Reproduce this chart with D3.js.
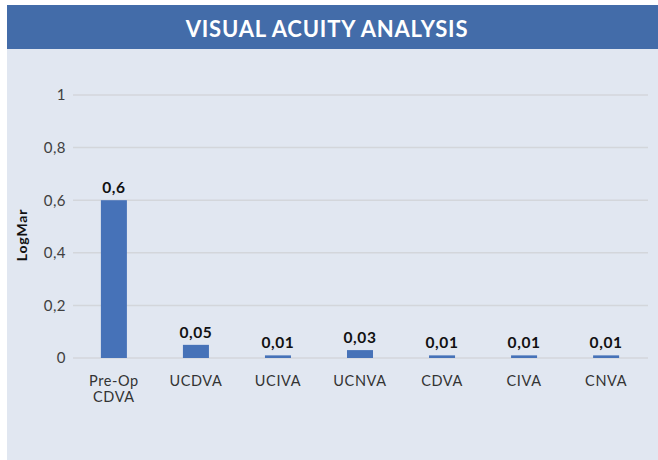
<!DOCTYPE html>
<html><head><meta charset="utf-8">
<script src="https://cdn.jsdelivr.net/npm/d3@7"></script>
<style>body{margin:0;background:#fff;}svg{display:block;font-family:"Lato","Noto Sans",sans-serif;}</style>
</head><body>
<svg id="c" width="658" height="460"></svg>
<script>
const title = "VISUAL ACUITY ANALYSIS";
const categories = ["Pre-Op\nCDVA","UCDVA","UCIVA","UCNVA","CDVA","CIVA","CNVA"];
const values = [0.6,0.05,0.01,0.03,0.01,0.01,0.01];
const valueLabels = ["0,6","0,05","0,01","0,03","0,01","0,01","0,01"];
const yTicks = [0,0.2,0.4,0.6,0.8,1];
const yTickLabels = ["0","0,2","0,4","0,6","0,8","1"];
const yTitle = "LogMar";

const svg = d3.select("#c");
svg.append("rect").attr("x",7).attr("y",5).attr("width",651).attr("height",455).attr("fill","#e1e7f1");
svg.append("rect").attr("x",7).attr("y",5).attr("width",651).attr("height",44).attr("fill","#436ca9");
svg.append("text").attr("x",327).attr("y",28).attr("text-anchor","middle").attr("dominant-baseline","central")
  .attr("fill","#fff").attr("font-weight","bold").attr("font-size",22).attr("letter-spacing",0.8).text(title);

const x = d3.scaleBand().domain(categories).range([73,647]).paddingInner(0.683).paddingOuter(0.34);
const y = d3.scaleLinear().domain([0,1]).range([358,95]);

const g = svg.append("g");
g.selectAll("line.grid").data(yTicks).join("line").attr("class","grid")
  .attr("x1",73).attr("x2",648).attr("y1",d=>y(d)).attr("y2",d=>y(d))
  .attr("stroke","#d3d6db").attr("stroke-width",1.5);

const yAxis = d3.axisLeft(y).tickValues(yTicks).tickFormat((d,i)=>yTickLabels[i]).tickSize(0).tickPadding(7);
const ya = g.append("g").attr("transform","translate(73,0)").call(yAxis);
ya.select(".domain").remove();
ya.selectAll("text").attr("font-size",15).attr("fill","#404040").attr("font-family","Lato, sans-serif").attr("letter-spacing",0.5);

g.selectAll("rect.bar").data(values).join("rect").attr("class","bar")
  .attr("x",(d,i)=>x(categories[i])).attr("width",x.bandwidth())
  .attr("y",d=>y(d)).attr("height",d=>Math.max(1.5,y(0)-y(d))).attr("fill","#4672b8");

g.selectAll("text.val").data(values).join("text").attr("class","val")
  .attr("x",(d,i)=>x(categories[i])+x.bandwidth()/2).attr("y",d=>Math.min(y(d),y(0)-1.5)-7)
  .attr("text-anchor","middle").attr("font-weight","bold").attr("font-size",15.5).attr("letter-spacing",0.6).attr("fill","#111")
  .text((d,i)=>valueLabels[i]);

const xa = g.append("g");
categories.forEach(c=>{
  const t = xa.append("text").attr("x",x(c)+x.bandwidth()/2).attr("y",386)
    .attr("text-anchor","middle").attr("font-size",14.5).attr("letter-spacing",0.6).attr("fill","#333");
  c.split("\n").forEach((ln,j)=>t.append("tspan").attr("x",x(c)+x.bandwidth()/2).attr("dy",j?16:0).text(ln));
});

svg.append("text").attr("transform","translate(27,235) rotate(-90)").attr("text-anchor","middle")
  .attr("font-weight","bold").attr("font-size",14).attr("letter-spacing",0.8).attr("fill","#111").text(yTitle);
</script>
</body></html>
